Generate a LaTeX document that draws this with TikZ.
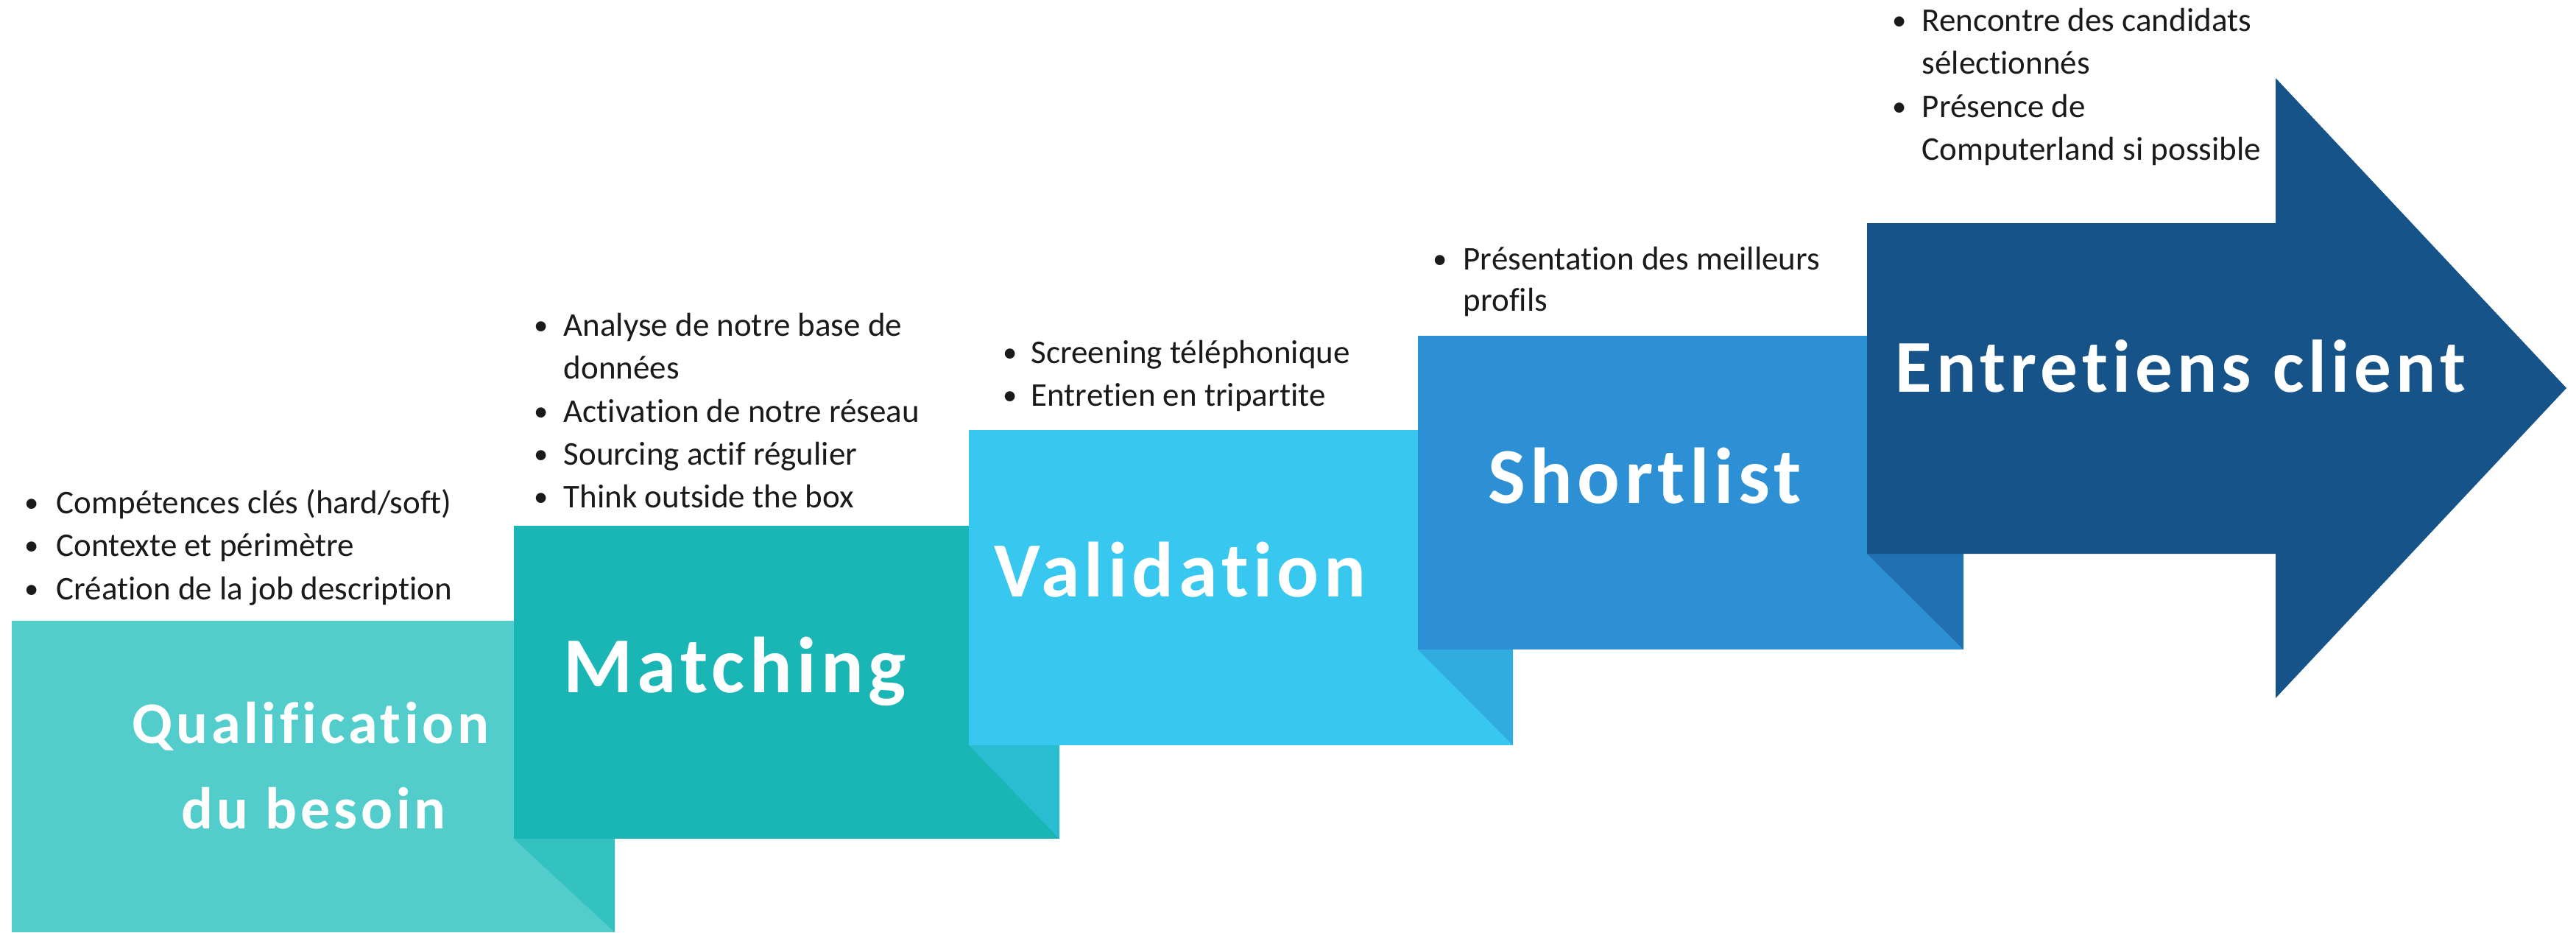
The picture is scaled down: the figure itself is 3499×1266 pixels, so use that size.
\documentclass[tikz,border=0pt]{standalone}
\usepackage{fontspec}
\setmainfont[Ligatures=NoCommon]{Carlito}
\newfontfamily\titlefont[LetterSpace=6,Ligatures=NoCommon]{Carlito}
\definecolor{cA}{HTML}{52CDCB}
\definecolor{sA}{HTML}{33C2C0}
\definecolor{cB}{HTML}{1AB5B5}
\definecolor{sB}{HTML}{2ABDD2}
\definecolor{cC}{HTML}{38C8EF}
\definecolor{sC}{HTML}{31ACDF}
\definecolor{cD}{HTML}{2E90D4}
\definecolor{sD}{HTML}{2170B0}
\definecolor{cE}{HTML}{165389}
\definecolor{txt}{HTML}{1A1A1A}
\begin{document}
\begin{tikzpicture}[x=0.01cm,y=-0.01cm,
  bul/.style={anchor=base west,inner sep=0pt,text=txt,font=\fontsize{12.8}{15}\selectfont},
  dot/.style={anchor=base,inner sep=0pt,text=txt,font=\fontsize{11}{13}\selectfont,yshift=0.35pt},
  ttl/.style={anchor=base,inner sep=0pt,text=white,font=\titlefont\bfseries\fontsize{#1}{#1}\selectfont},
  ttl/.default=30.5]
\useasboundingbox (0,0) rectangle (3499,1266);
% boxes
\fill[cA] (16,843) rectangle (835,1266);
\fill[sA] (698,1139) -- (835,1139) -- (835,1266) -- cycle;
\fill[cB] (698,714) rectangle (1439,1139);
\fill[sB] (1316,1012) -- (1439,1012) -- (1439,1139) -- cycle;
\fill[cC] (1316,584) rectangle (2055,1012);
\fill[sC] (1926,882) -- (2055,882) -- (2055,1012) -- cycle;
\fill[cD] (1926,456) rectangle (2667,882);
\fill[sD] (2536,752) -- (2667,752) -- (2667,882) -- cycle;
\fill[cE] (2536,303) -- (3091,303) -- (3091,106) -- (3486,527) -- (3091,948) -- (3091,752) -- (2536,752) -- cycle;
% titles
\node[ttl=22.8] (t1a) at (422,1009) {Qualification};
\node[ttl=22.8] (t1b) at (426,1125) {du besoin};
\node[ttl=30.6] (t2) at (998,940) {Matching};
\node[ttl=30.2] (t3) at (1603,810) {Validation};
\node[ttl=30.6] (t4) at (2234,683) {Shortlist};
\node[ttl=28.8] (t5) at (2962,532) {Entretiens client};
% box 1 bullets
\node[dot] (d11) at (43,697) {•};
\node[bul] (b11) at (76,697) {Compétences clés (hard/soft)};
\node[dot] (d12) at (43,755) {•};
\node[bul] (b12) at (76,755) {Contexte et périmètre};
\node[dot] (d13) at (43,814) {•};
\node[bul] (b13) at (76,814) {Création de la job description};
% box 2 bullets
\node[dot] (d21) at (735,456) {•};
\node[bul] (b21) at (765,456) {Analyse de notre base de};
\node[bul] (b22) at (765,514) {données};
\node[dot] (d23) at (735,573) {•};
\node[bul] (b23) at (765,573) {Activation de notre réseau};
\node[dot] (d24) at (735,631) {•};
\node[bul] (b24) at (765,631) {Sourcing actif régulier};
\node[dot] (d25) at (735,689) {•};
\node[bul] (b25) at (765,689) {Think outside the box};
% box 3 bullets
\node[dot] (d31) at (1372,493) {•};
\node[bul] (b31) at (1400,493) {Screening téléphonique};
\node[dot] (d32) at (1372,551) {•};
\node[bul] (b32) at (1400,551) {Entretien en tripartite};
% box 4 bullets
\node[dot] (d41) at (1956,366) {•};
\node[bul] (b41) at (1987,366) {Présentation des meilleurs};
\node[bul] (b42) at (1987,422) {profils};
% box 5 bullets
\node[dot] (d51) at (2580,42) {•};
\node[bul] (b51) at (2610,42) {Rencontre des candidats};
\node[bul] (b52) at (2610,100) {sélectionnés};
\node[dot] (d53) at (2580,159) {•};
\node[bul] (b53) at (2610,159) {Présence de};
\node[bul] (b54) at (2610,217) {Computerland si possible};
\end{tikzpicture}
\end{document}
